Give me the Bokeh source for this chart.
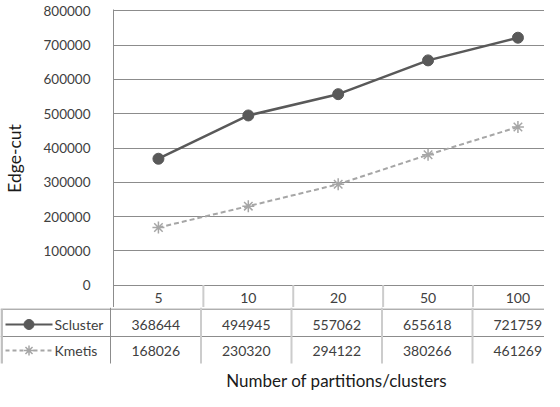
from bokeh.plotting import figure
from bokeh.models import Range1d, FixedTicker, BasicTickFormatter
from bokeh.core.properties import value
from bokeh.embed import file_html
from bokeh.resources import INLINE

# ---- data ----
categories = ["5", "10", "20", "50", "100"]
series_names = ["Scluster", "Kmetis"]
scluster = [368644, 494945, 557062, 655618, 721759]
kmetis = [168026, 230320, 294122, 380266, 461269]
y_ticks = [0, 100000, 200000, 300000, 400000, 500000, 600000, 700000, 800000]

FONT = "Lato"
DARK = "#595959"
LIGHT = "#a6a6a6"
GRID = "#8c8c8c"
SEP = "#cccccc"
TXT = "#404040"

# ---- layout geometry (page pixels) ----
W = 544
COLW = 90.5            # px per category column
LEFT = 110             # px reserved for the y axis area
PAGE_TOP = 8
FRAME_TOP = 17
ZERO_PX = 292.6
MAX_PX = 18.4
SPLIT = 315            # where the chart ends and the table part begins
BOTTOM = 399

x_end = (W - LEFT) / COLW
x_left = -LEFT / COLW
xpos = [i + 0.5 for i in range(len(categories))]

k = (ZERO_PX - MAX_PX) / y_ticks[-1]          # px per data unit
y_end = y_ticks[-1] + (MAX_PX - FRAME_TOP) / k
y_start = -(SPLIT - ZERO_PX) / k

# ---- chart (with the header row of the table) ----
top = figure(width=W, height=SPLIT - PAGE_TOP, x_range=Range1d(0, x_end),
             y_range=Range1d(y_start, y_end), output_backend="svg",
             toolbar_location=None, min_border_left=LEFT, min_border_right=0,
             min_border_top=FRAME_TOP - PAGE_TOP, min_border_bottom=0)
top.outline_line_color = None
top.xaxis.visible = False
top.xgrid.visible = False
yax = top.yaxis[0]
yax.ticker = FixedTicker(ticks=y_ticks)
yax.formatter = BasicTickFormatter(use_scientific=False)
yax.major_tick_line_color = None
yax.minor_tick_line_color = None
yax.axis_line_color = GRID
yax.major_label_standoff = 17
yax.major_label_text_font = FONT
yax.major_label_text_font_size = "13.5px"
yax.major_label_text_color = TXT
yax.axis_label = "Edge-cut"
yax.axis_label_text_font = FONT
yax.axis_label_text_font_size = "17.5px"
yax.axis_label_text_font_style = "normal"
yax.axis_label_text_color = "#1a1a1a"
yax.axis_label_standoff = 16
top.ygrid.ticker = FixedTicker(ticks=y_ticks)
top.ygrid.grid_line_color = GRID

top.line(xpos, kmetis, line_color=LIGHT, line_width=2, line_dash="5 3")
top.scatter(xpos, kmetis, marker="asterisk", size=12, line_color=LIGHT, line_width=1.5)
top.line(xpos, scluster, line_color=DARK, line_width=2.5)
top.scatter(xpos, scluster, marker="circle", size=11, fill_color=DARK, line_color=DARK)

seps = list(range(1, len(categories)))
top.segment(x0=seps, y0=[0] * len(seps), x1=seps, y1=[y_start] * len(seps),
            line_color=SEP, line_width=2)
header_y = -(305 - ZERO_PX) / k
font_kw = dict(text_font=value(FONT), text_font_size=value("14px"),
               text_color=TXT, text_align="center", text_baseline="middle")
top.text(x=xpos, y=[header_y] * len(categories), text=categories, **font_kw)

# ---- data rows of the table ----
BH = BOTTOM - SPLIT
bot = figure(width=W, height=BH, x_range=Range1d(x_left, x_end),
             y_range=Range1d(-BH, 0), output_backend="svg",
             toolbar_location=None, min_border=0, min_border_left=0,
             min_border_right=0, min_border_top=0, min_border_bottom=0)
bot.axis.visible = False
bot.grid.visible = False
bot.outline_line_color = None

def py(page_y):
    return -(page_y - SPLIT)

row_lines = [py(316.7), py(344)]
table_bottom = py(371)
row_text = [py(332), py(358)]

bot.segment(x0=[x_left] * 2, y0=row_lines, x1=[x_end] * 2, y1=row_lines,
            line_color=GRID, line_width=1)
bot.segment(x0=seps, y0=[0] * len(seps), x1=seps, y1=[table_bottom] * len(seps),
            line_color=SEP, line_width=2)
bot.segment(x0=[0], y0=[0], x1=[0], y1=[table_bottom], line_color=GRID, line_width=1)
lb = x_left + 1.2 / COLW
bot.segment(x0=[lb], y0=[row_lines[0]], x1=[lb], y1=[table_bottom],
            line_color="#c0c0c0", line_width=2.5)

bot.text(x=xpos, y=[row_text[0]] * 5, text=[str(v) for v in scluster], **font_kw)
bot.text(x=xpos, y=[row_text[1]] * 5, text=[str(v) for v in kmetis], **font_kw)

# legend keys in the first column
lx0 = x_left + 5 / COLW
lx1 = x_left + 52 / COLW
lxm = (lx0 + lx1) / 2
bot.segment(x0=[lx0], y0=[row_text[0]], x1=[lx1], y1=[row_text[0]], line_color=DARK, line_width=2)
bot.scatter([lxm], [row_text[0]], marker="circle", size=10, fill_color=DARK, line_color=DARK)
bot.segment(x0=[lx0], y0=[row_text[1]], x1=[lx1], y1=[row_text[1]], line_color=LIGHT,
            line_width=2, line_dash="4 3")
bot.scatter([lxm], [row_text[1]], marker="asterisk", size=10, line_color=LIGHT, line_width=1.5)
bot.text(x=[lx1 + 2 / COLW] * 2, y=row_text, text=series_names,
         text_font=value(FONT), text_font_size=value("14px"), text_color=TXT,
         text_align="left", text_baseline="middle")

# x axis title
bot.text(x=[len(categories) / 2], y=[py(388)], text=["Number of partitions/clusters"],
         text_font=value(FONT), text_font_size=value("17px"), text_color="#1a1a1a",
         text_align="center", text_baseline="middle")

# two independent roots stacked vertically (no frame alignment between them)
open("out.html", "w").write(file_html([top, bot], INLINE))
